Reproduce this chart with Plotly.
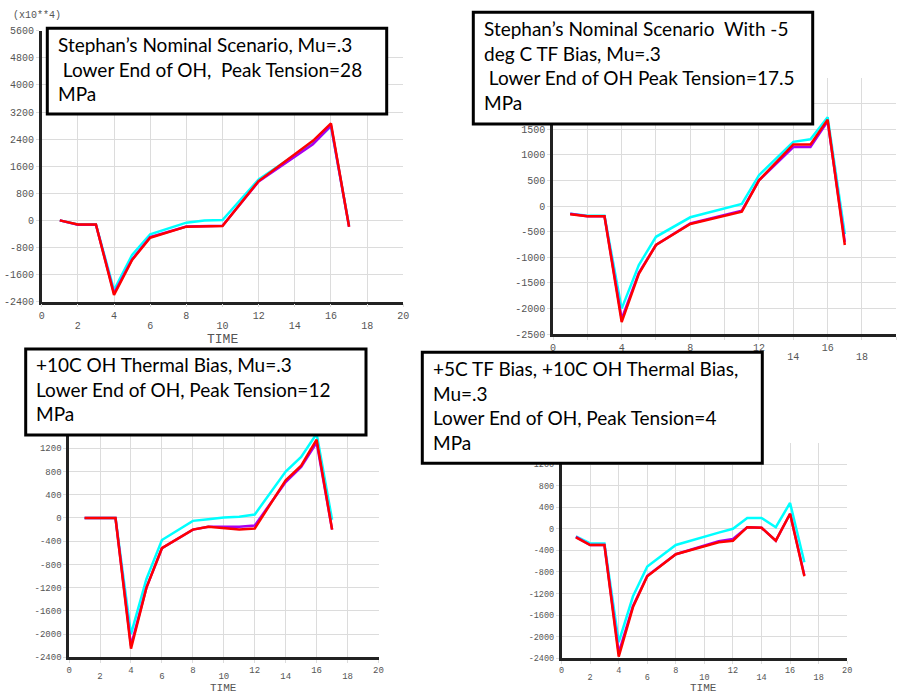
import plotly.graph_objects as go

W, H = 902, 694

# ---------------- data ----------------
# Panel 1: Stephan's Nominal Scenario
t1 = [1, 2, 3, 4, 5, 6, 8, 9, 10, 12, 14, 15, 16, 17]
p1_cyan = [0, -120, -120, -2060, -1020, -410, -67, 0, 10, 1212, 1930, 2270, 2780, -150]
p1_purple = [0, -130, -130, -2150, -1150, -490, -180, -160, -160, 1150, 1900, 2250, 2800, -185]
p1_red = [0, -120, -120, -2200, -1168, -510, -185, -165, -165, 1162, 1960, 2350, 2864, -185]

# Panel 2: -5 deg C TF bias
t2 = [1, 2, 3, 4, 5, 6, 8, 11, 12, 13, 14, 15, 16, 17]
p2_cyan = [-150, -190, -190, -2000, -1150, -600, -220, 40, 600, 930, 1250, 1300, 1730, -550]
p2_purple = [-150, -200, -200, -2200, -1300, -760, -340, -90, 500, 830, 1150, 1150, 1650, -700]
p2_red = [-160, -200, -200, -2260, -1320, -760, -350, -110, 500, 850, 1200, 1200, 1680, -760]

# Panel 3: +10C OH thermal bias
t3 = [1, 2, 3, 4, 5, 6, 8, 9, 10, 11, 12, 14, 15, 16, 17]
p3_cyan = [0, 0, 0, -2000, -1050, -380, -50, -20, 10, 20, 60, 800, 1050, 1450, -30]
p3_purple = [0, 0, 0, -2200, -1200, -520, -200, -150, -150, -150, -130, 620, 880, 1300, -200]
p3_red = [0, 0, 0, -2250, -1200, -520, -200, -150, -170, -200, -180, 650, 900, 1350, -200]

# Panel 4: +5C TF bias, +10C OH thermal bias
t4 = [1, 2, 3, 4, 5, 6, 8, 9, 10, 11, 12, 13, 14, 15, 16, 17]
p4_cyan = [-140, -270, -270, -2100, -1250, -700, -300, -220, -150, -70, 0, 200, 200, 30, 480, -620]
p4_purple = [-150, -300, -300, -2300, -1430, -870, -470, -390, -310, -230, -190, 30, 20, -220, 280, -860]
p4_red = [-160, -300, -300, -2370, -1450, -880, -470, -400, -320, -250, -220, 30, 20, -220, 280, -880]

# x tick labels: upper row and staggered lower row
x_grid = [0, 2, 4, 6, 8, 10, 12, 14, 16, 18, 20]
x_row1 = [0, 4, 8, 12, 16, 20]
x_row2 = [2, 6, 10, 14, 18]
x_row2_p2 = [14, 18]          # the others sit behind the lower-right caption box

y1_ticks = [-2400, -1600, -800, 0, 800, 1600, 2400, 3200, 4000, 4800, 5600]
y1_shown = y1_ticks
y2_ticks = [-2500, -2000, -1500, -1000, -500, 0, 500, 1000, 1500, 2000, 2500]
y2_shown = [-2500, -2000, -1500, -1000, -500, 0, 500, 1000, 1500]
y34_ticks = [-2400, -2000, -1600, -1200, -800, -400, 0, 400, 800, 1200, 1600]
y34_shown = [-2400, -2000, -1600, -1200, -800, -400, 0, 400, 800, 1200]

box_texts = [
    "Stephan’s Nominal Scenario, Mu=.3<br>\u00a0Lower End of OH,\u00a0 Peak Tension=28<br>MPa",
    "Stephan’s Nominal Scenario\u00a0 With -5<br>deg C TF Bias, Mu=.3<br>\u00a0Lower End of OH Peak Tension=17.5<br>MPa",
    "+10C OH Thermal Bias, Mu=.3<br>Lower End of OH, Peak Tension=12<br>MPa",
    "+5C TF Bias, +10C OH Thermal Bias,<br>Mu=.3<br>Lower End of OH, Peak Tension=4<br>MPa",
]

# ---------------- layout geometry (pixels) ----------------
panels = [
    dict(t=t1, c=p1_cyan, p=p1_purple, r=p1_red, x0=41.7, x1=403.3, ytop=30.7, ybot=301.7,
         yr=[-2400, 5600], yt=y1_ticks, ys=y1_shown, row2=x_row2, time=(222, 340),
         tfs=13, fs=10, so1=0, so2=16),
    dict(t=t2, c=p2_cyan, p=p2_purple, r=p2_red, x0=553.0, x1=896.3, ytop=77.7, ybot=334.3,
         yr=[-2500, 2500], yt=y2_ticks, ys=y2_shown, row2=x_row2_p2, time=None,
         tfs=12, fs=10, so1=-1, so2=15),
    dict(t=t3, c=p3_cyan, p=p3_purple, r=p3_red, x0=69.1, x1=378.5, ytop=425.1, ybot=657.3,
         yr=[-2400, 1600], yt=y34_ticks, ys=y34_shown, row2=x_row2, time=(223, 688),
         tfs=11, fs=9, so1=-1, so2=12),
    dict(t=t4, c=p4_cyan, p=p4_purple, r=p4_red, x0=561.6, x1=847.2, ytop=442.5, ybot=658.3,
         yr=[-2400, 1600], yt=y34_ticks, ys=y34_shown, row2=x_row2, time=(703, 688),
         tfs=11, fs=8.5, so1=-1, so2=12),
]
boxes = [  # outer box x0, y0, x1, y1 ; text left, text top
    (47.3, 28.3, 386.7, 114.0, 56, 31),
    (473.3, 12.3, 812.7, 124.0, 482, 15),
    (25.7, 349.0, 366.0, 435.0, 34, 351),
    (422.3, 352.3, 762.3, 463.3, 431, 355),
]

def fx(x):
    return x / W

def fy(y):
    return 1 - y / H

fig = go.Figure()
layout = dict(width=W, height=H, margin=dict(l=0, r=0, t=0, b=0),
              paper_bgcolor="white", plot_bgcolor="white", showlegend=False,
              template="none")

shapes = []
annotations = []
for i, pn in enumerate(panels, start=1):
    tick_font = dict(family="Liberation Mono", size=pn["fs"], color="#555555")
    xa = "x" if i == 1 else f"x{i}"
    ya = "y" if i == 1 else f"y{i}"
    for vals, col in ((pn["c"], "#00FFFF"), (pn["p"], "#A800F0"), (pn["r"], "#FF0000")):
        fig.add_trace(go.Scatter(x=pn["t"], y=vals, mode="lines", xaxis=xa, yaxis=ya,
                                 line=dict(color=col, width=2.5), hoverinfo="skip"))
    xkey = "xaxis" if i == 1 else f"xaxis{i}"
    ykey = "yaxis" if i == 1 else f"yaxis{i}"
    layout[xkey] = dict(domain=[fx(pn["x0"]), fx(pn["x1"])], range=[0, 20], anchor=ya,
                        tickmode="array", tickvals=x_grid,
                        ticktext=[str(v) if v in x_row1 else "" for v in x_grid],
                        showgrid=True, gridcolor="#dcdcdc", gridwidth=1, zeroline=False,
                        showline=True, linecolor="#222222", linewidth=2.5,
                        ticks="outside", ticklen=3, tickcolor="#dcdcdc",
                        tickfont=tick_font, automargin=False,
                        ticklabelstandoff=pn["so1"])
    # overlay axis carrying the staggered lower row of labels
    ox = 4 + i
    layout[f"xaxis{ox}"] = dict(overlaying=xa, anchor=ya, side="bottom", range=[0, 20],
                                tickmode="array", tickvals=pn["row2"],
                                ticktext=[str(v) for v in pn["row2"]],
                                showgrid=False, zeroline=False, showline=False, ticks="",
                                tickfont=tick_font, automargin=False,
                                ticklabelstandoff=pn["so2"])
    fig.add_trace(go.Scatter(x=[], y=[], xaxis=f"x{ox}", yaxis=ya, mode="lines",
                             hoverinfo="skip"))
    layout[ykey] = dict(domain=[fy(pn["ybot"]), fy(pn["ytop"])], range=pn["yr"], anchor=xa,
                        tickmode="array", tickvals=pn["yt"],
                        ticktext=[str(v) if v in pn["ys"] else "" for v in pn["yt"]],
                        showgrid=True, gridcolor="#dcdcdc", gridwidth=1, zeroline=False,
                        showline=True, linecolor="#222222", linewidth=2.5,
                        ticks="outside", ticklen=3, tickcolor="#dcdcdc",
                        tickfont=tick_font, automargin=False)
    if pn["time"] is not None:
        annotations.append(dict(xref="paper", yref="paper", x=fx(pn["time"][0]),
                                y=fy(pn["time"][1]), xanchor="center", yanchor="middle",
                                showarrow=False, text="TIME",
                                font=dict(family="Liberation Mono", size=pn["tfs"],
                                          color="#555555")))

for (bx0, by0, bx1, by1, tx, ty), txt in zip(boxes, box_texts):
    shapes.append(dict(type="rect", xref="paper", yref="paper",
                       x0=fx(bx0), x1=fx(bx1), y0=fy(by1), y1=fy(by0),
                       line=dict(color="black", width=3), fillcolor="white", layer="above"))
    annotations.append(dict(xref="paper", yref="paper", x=fx(tx), y=fy(ty),
                            xanchor="left", yanchor="top", align="left", showarrow=False,
                            text=txt, font=dict(family="Lato", size=19, color="black")))

annotations.append(dict(xref="paper", yref="paper", x=fx(11), y=fy(15),
                        xanchor="left", yanchor="middle", showarrow=False,
                        text="(x10**4)",
                        font=dict(family="Liberation Mono", size=10, color="#555555")))

layout["shapes"] = shapes
layout["annotations"] = annotations
fig.update_layout(**layout)
fig.write_html("out.html", config={"displayModeBar": False},
               post_script="document.body.style.margin='0';document.body.style.overflow='hidden';")
